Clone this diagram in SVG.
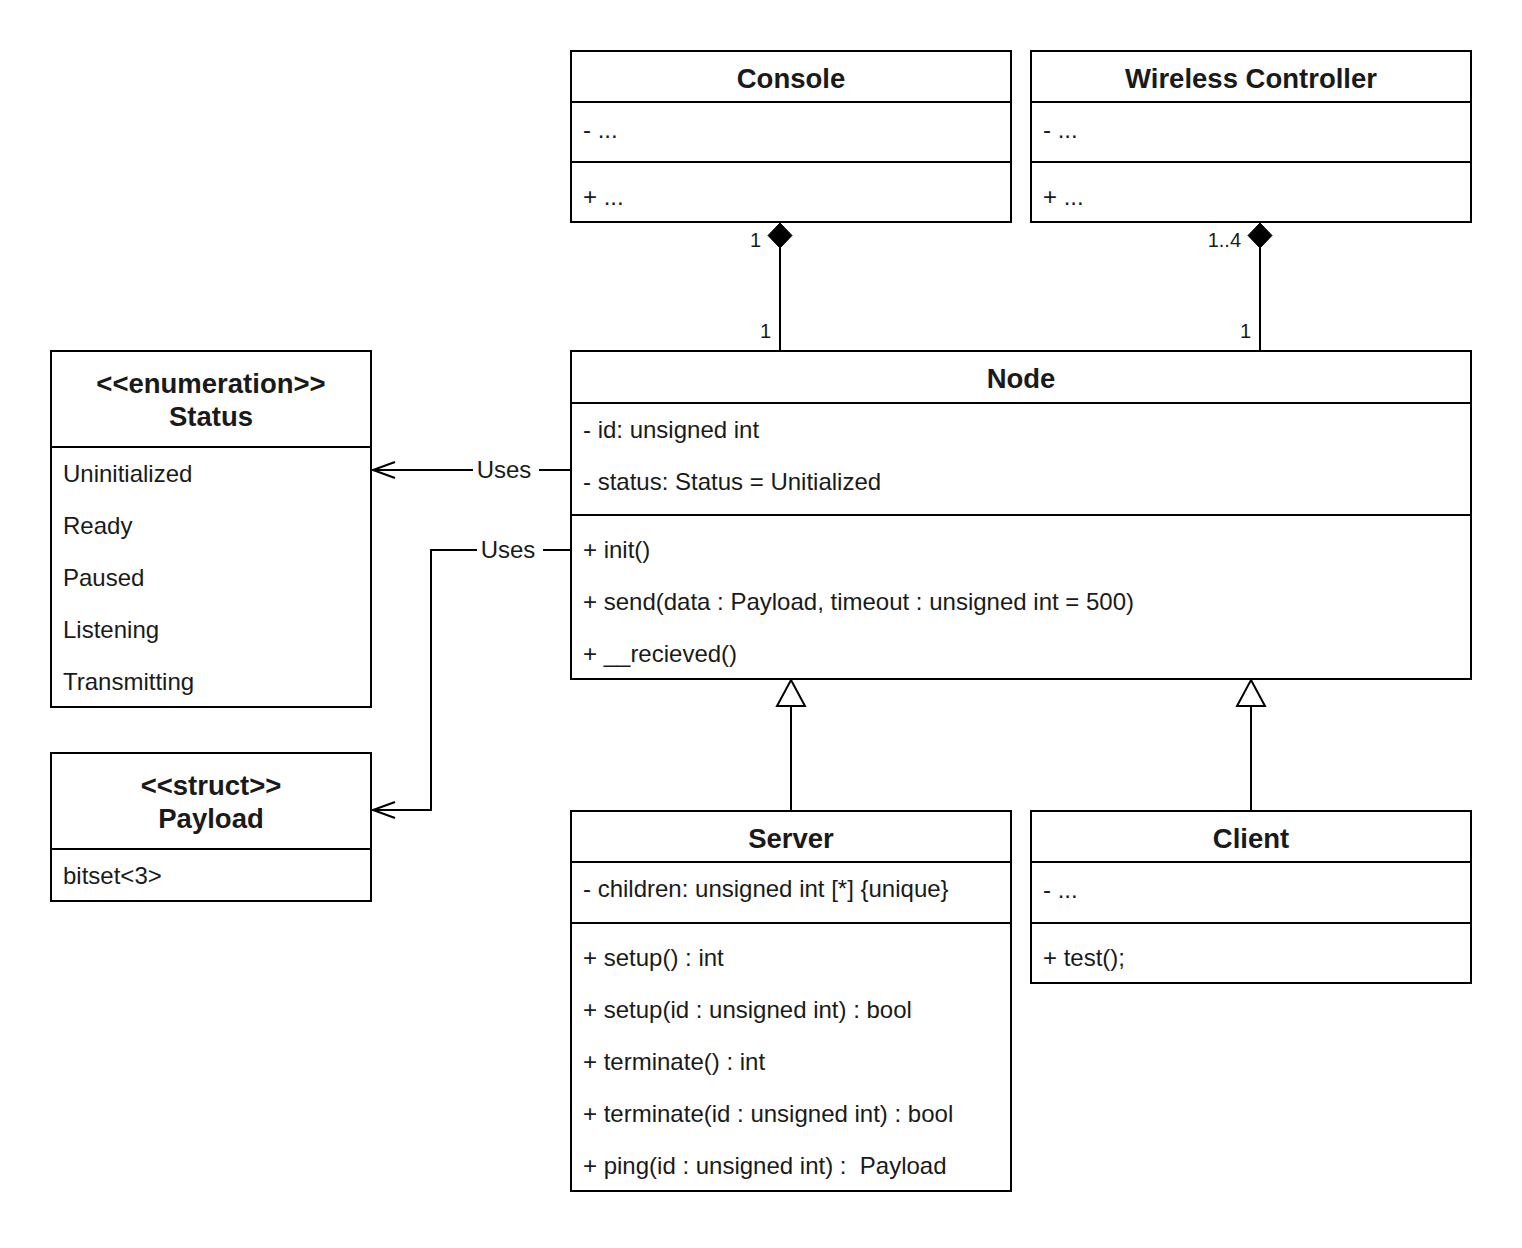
<svg xmlns="http://www.w3.org/2000/svg" width="1522" height="1248" viewBox="0 0 1522 1248">
<style>
.box{fill:#fff;stroke:#000;stroke-width:2}
.ln{stroke:#000;stroke-width:2;fill:none}
.t{font-family:"Liberation Sans",Arial,sans-serif;font-size:24px;fill:#1a1a1a}
.h{font-family:"Liberation Sans",Arial,sans-serif;font-size:27.5px;font-weight:bold;fill:#1a1a1a;text-anchor:middle}
.m{font-family:"Liberation Sans",Arial,sans-serif;font-size:20px;fill:#1a1a1a;text-anchor:end}
.lbl{font-family:"Liberation Sans",Arial,sans-serif;font-size:24px;fill:#1a1a1a;text-anchor:middle}
</style>
<rect width="1522" height="1248" fill="#fff"/>

<g id="console">
<rect class="box" x="571" y="51" width="440" height="171"/>
<line class="ln" x1="571" y1="102" x2="1011" y2="102"/>
<line class="ln" x1="571" y1="162" x2="1011" y2="162"/>
<text class="h" x="791" y="88">Console</text>
<text class="t" x="583" y="138">- ...</text>
<text class="t" x="583" y="205">+ ...</text>
</g>

<g id="wireless-controller">
<rect class="box" x="1031" y="51" width="440" height="171"/>
<line class="ln" x1="1031" y1="102" x2="1471" y2="102"/>
<line class="ln" x1="1031" y1="162" x2="1471" y2="162"/>
<text class="h" x="1251" y="88">Wireless Controller</text>
<text class="t" x="1043" y="138">- ...</text>
<text class="t" x="1043" y="205">+ ...</text>
</g>

<g id="node">
<rect class="box" x="571" y="351" width="900" height="328"/>
<line class="ln" x1="571" y1="403" x2="1471" y2="403"/>
<line class="ln" x1="571" y1="515" x2="1471" y2="515"/>
<text class="h" x="1021" y="388">Node</text>
<text class="t" x="583" y="438">- id: unsigned int</text>
<text class="t" x="583" y="490">- status: Status = Unitialized</text>
<text class="t" x="583" y="558">+ init()</text>
<text class="t" x="583" y="610">+ send(data : Payload, timeout : unsigned int = 500)</text>
<text class="t" x="583" y="662">+ __recieved()</text>
</g>

<g id="status">
<rect class="box" x="51" y="351" width="320" height="356"/>
<line class="ln" x1="51" y1="447" x2="371" y2="447"/>
<text class="h" x="211" y="393">&lt;&lt;enumeration&gt;&gt;</text>
<text class="h" x="211" y="426">Status</text>
<text class="t" x="63" y="482">Uninitialized</text>
<text class="t" x="63" y="534">Ready</text>
<text class="t" x="63" y="586">Paused</text>
<text class="t" x="63" y="638">Listening</text>
<text class="t" x="63" y="690">Transmitting</text>
</g>

<g id="payload">
<rect class="box" x="51" y="753" width="320" height="148"/>
<line class="ln" x1="51" y1="849" x2="371" y2="849"/>
<text class="h" x="211" y="795">&lt;&lt;struct&gt;&gt;</text>
<text class="h" x="211" y="828">Payload</text>
<text class="t" x="63" y="884">bitset&lt;3&gt;</text>
</g>

<g id="server">
<rect class="box" x="571" y="811" width="440" height="380"/>
<line class="ln" x1="571" y1="862" x2="1011" y2="862"/>
<line class="ln" x1="571" y1="923" x2="1011" y2="923"/>
<text class="h" x="791" y="848">Server</text>
<text class="t" x="583" y="897">- children: unsigned int [*] {unique}</text>
<text class="t" x="583" y="966">+ setup() : int</text>
<text class="t" x="583" y="1018">+ setup(id : unsigned int) : bool</text>
<text class="t" x="583" y="1070">+ terminate() : int</text>
<text class="t" x="583" y="1122">+ terminate(id : unsigned int) : bool</text>
<text class="t" x="583" y="1174" xml:space="preserve">+ ping(id : unsigned int) :  Payload</text>
</g>

<g id="client">
<rect class="box" x="1031" y="811" width="440" height="172"/>
<line class="ln" x1="1031" y1="862" x2="1471" y2="862"/>
<line class="ln" x1="1031" y1="923" x2="1471" y2="923"/>
<text class="h" x="1251" y="848">Client</text>
<text class="t" x="1043" y="898">- ...</text>
<text class="t" x="1043" y="966">+ test();</text>
</g>

<g id="connectors">
<!-- composition Console -->
<line class="ln" x1="780" y1="247" x2="780" y2="351"/>
<polygon points="780,223 792,235.5 780,248 768,235.5" fill="#000" stroke="#000" stroke-width="1"/>
<text class="m" x="761" y="247">1</text>
<text class="m" x="771" y="338">1</text>
<!-- composition Wireless -->
<line class="ln" x1="1260" y1="247" x2="1260" y2="351"/>
<polygon points="1260,223 1272,235.5 1260,248 1248,235.5" fill="#000" stroke="#000" stroke-width="1"/>
<text class="m" x="1241" y="247">1..4</text>
<text class="m" x="1251" y="338">1</text>
<!-- Uses Status -->
<line class="ln" x1="571" y1="470" x2="373" y2="470"/>
<path class="ln" d="M395,462 L373,470 L395,478"/>
<rect x="473" y="456" width="66" height="28" fill="#fff"/>
<text class="lbl" x="504" y="478">Uses</text>
<!-- Uses Payload -->
<polyline class="ln" points="571,550 431,550 431,810 373,810"/>
<path class="ln" d="M395,802 L373,810 L395,818"/>
<rect x="477" y="536" width="66" height="28" fill="#fff"/>
<text class="lbl" x="508" y="558">Uses</text>
<!-- inheritance Server -->
<line class="ln" x1="791" y1="811" x2="791" y2="706"/>
<polygon points="791,680 805,706 777,706" fill="#fff" stroke="#000" stroke-width="2"/>
<!-- inheritance Client -->
<line class="ln" x1="1251" y1="811" x2="1251" y2="706"/>
<polygon points="1251,680 1265,706 1237,706" fill="#fff" stroke="#000" stroke-width="2"/>
</g>
</svg>
